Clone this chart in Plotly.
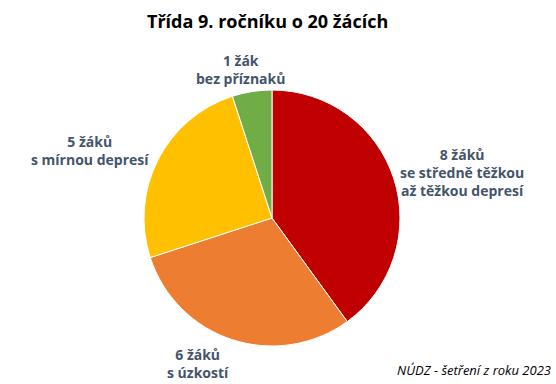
import plotly.graph_objects as go

categories = ["se středně těžkou<br>až těžkou depresí", "s úzkostí", "s mírnou depresí", "bez příznaků"]
counts = [8, 6, 5, 1]
colors = ["#C00000", "#ED7D31", "#FFC000", "#70AD47"]
title = "Třída 9. ročníku o 20 žácích"
source = "NÚDZ - šetření z roku 2023"

def word(n):
    return "žák" if n == 1 else "žáků"

W, H = 556, 384
cx, cy, r = 272, 218, 128

fig = go.Figure(go.Pie(
    values=counts,
    labels=categories,
    marker=dict(colors=colors, line=dict(color="white", width=1)),
    sort=False,
    direction="clockwise",
    rotation=0,
    textinfo="none",
    hoverinfo="label+value",
    showlegend=False,
    domain=dict(x=[(cx - r) / W, (cx + r) / W], y=[(H - cy - r) / H, (H - cy + r) / H]),
))

label_pos = [(462, 172), (198, 363), (90, 150), (240, 69)]
annotations = []
for cat, n, (x, y) in zip(categories, counts, label_pos):
    annotations.append(dict(
        x=x / W, y=1 - y / H, xref="paper", yref="paper",
        text=f"{n} {word(n)}<br>{cat}", showarrow=False,
        font=dict(family="Open Sans", size=14, color="#44546A", weight="bold"),
        align="center", xanchor="center", yanchor="middle",
    ))
annotations.append(dict(
    x=553 / W, y=1 - 370 / H, xref="paper", yref="paper",
    text=f"<i>{source}</i>", showarrow=False,
    font=dict(family="Open Sans", size=13, color="#000000"),
    xanchor="right", yanchor="middle",
))
annotations.append(dict(
    x=267 / W, y=1 - 21 / H, xref="paper", yref="paper",
    text=f"<b>{title}</b>", showarrow=False,
    font=dict(family="Open Sans", size=18, color="#000000"),
    xanchor="center", yanchor="middle",
))

fig.update_layout(
    width=W, height=H,
    margin=dict(l=0, r=0, t=0, b=0),
    paper_bgcolor="white",
    annotations=annotations,
)
fig.write_html("out.html", config={"displayModeBar": False},
               post_script="document.body.style.margin='0';")
